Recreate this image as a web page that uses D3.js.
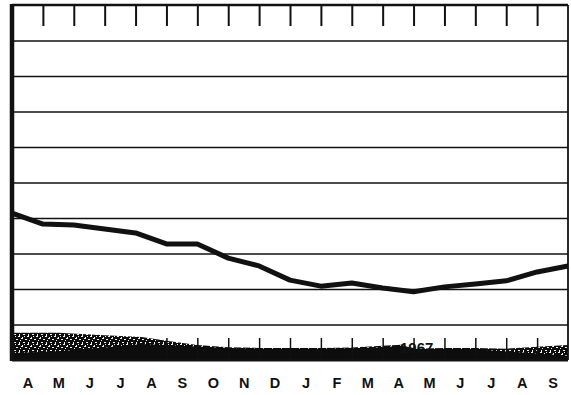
<!DOCTYPE html>
<html><head><meta charset="utf-8">
<script src="https://cdn.jsdelivr.net/npm/d3@7/dist/d3.min.js"></script>
<style>body{margin:0;background:#fff}svg{display:block}</style>
</head><body><svg id="c" width="571" height="395"></svg>
<script>
// Month labels (Apr 1966 .. Sep 1967)
const months = ["A","M","J","J","A","S","O","N","D","J","F","M","A","M","J","J","A","S"];
// Series value at each month boundary (index 0..18), in gridline units
const seriesValues = [4.14,3.83,3.80,3.69,3.58,3.27,3.27,2.87,2.65,2.25,2.08,2.17,2.03,1.92,2.06,2.14,2.23,2.48,2.65];
// Gridline levels
const gridLevels = [1,2,3,4,5,6,7,8,9];
// Bottom textured band (top edge, in gridline units) at positions along the month axis
const bandPos   = [0,1.5,3,4.2,5,6,7,8,9,10,11,12,12.6,13,14,15,16,17,18];
const bandTop   = [0.77,0.77,0.70,0.65,0.54,0.42,0.36,0.34,0.34,0.34,0.35,0.40,0.43,0.32,0.34,0.34,0.32,0.37,0.42];
const bandSolid = [0.20,0.25,0.35,0.45,0.42,0.38,0.34,0.32,0.32,0.32,0.33,0.36,0.40,0.30,0.32,0.30,0.24,0.18,0.12];
const yearLabel = "1967";

const svg = d3.select("#c");
const x = d3.scaleLinear().domain([0,18]).range([12,568]);
const y = d3.scaleLinear().domain([0,10]).range([360,5]);

// pattern for speckled band
const defs = svg.append("defs");
const pat = defs.append("pattern").attr("id","speck").attr("width",9).attr("height",8)
  .attr("patternUnits","userSpaceOnUse");
pat.append("rect").attr("width",9).attr("height",8).attr("fill","#0d0d0d");
[[0,0,2,1],[4,1,1,2],[7,3,2,1],[2,4,1,1],[5,6,2,1],[1,6,1,2],[6,0,1,1],[3,2,1,1]].forEach(p=>
  pat.append("rect").attr("x",p[0]).attr("y",p[1]).attr("width",p[2]).attr("height",p[3]).attr("fill","#f0f0f0"));

// band
const bandData = bandPos.map((p,i)=>({p, t:bandTop[i], s:bandSolid[i]}));
svg.append("path").datum(bandData)
  .attr("d", d3.area().x(d=>x(d.p)).y0(y(0)).y1(d=>y(d.t)))
  .attr("fill","url(#speck)");
svg.append("path").datum(bandData)
  .attr("d", d3.area().x(d=>x(d.p)).y0(y(0)).y1(d=>y(d.s)))
  .attr("fill","#0d0d0d");

// bottom small ticks rising out of band
const bt = svg.append("g").attr("transform",`translate(0,${y(0)})`)
  .call(d3.axisTop(x).tickValues(d3.range(5,18)).tickSize(22).tickFormat(""));
bt.select(".domain").remove();
bt.selectAll("line").attr("stroke","#111").attr("stroke-width",1.5);

// gridlines
const g = svg.append("g").attr("transform",`translate(${x(0)},0)`)
  .call(d3.axisLeft(y).tickValues(gridLevels).tickSize(-(x(18)-x(0))).tickFormat(""));
g.select(".domain").remove();
g.selectAll("line").attr("stroke","#111").attr("stroke-width",1.6);

// top ticks
const tt = svg.append("g").attr("transform",`translate(0,${y(10)})`)
  .call(d3.axisTop(x).tickValues(d3.range(1,18)).tickSize(-21).tickFormat(""));
tt.select(".domain").remove();
tt.selectAll("line").attr("stroke","#111").attr("stroke-width",2);

// frame
svg.append("line").attr("x1",x(0)).attr("x2",x(18)).attr("y1",y(10)).attr("y2",y(10)).attr("stroke","#111").attr("stroke-width",2.5);
svg.append("line").attr("x1",x(18)).attr("x2",x(18)).attr("y1",y(10)).attr("y2",y(0)).attr("stroke","#111").attr("stroke-width",1.8);
svg.append("line").attr("x1",x(0)).attr("x2",x(18)).attr("y1",y(0)).attr("y2",y(0)).attr("stroke","#111").attr("stroke-width",3);
svg.append("line").attr("x1",x(0)).attr("x2",x(0)).attr("y1",y(10)-1).attr("y2",y(0)+1).attr("stroke","#111").attr("stroke-width",4.5);

// series line
svg.append("path").datum(seriesValues)
  .attr("d", d3.line().x((d,i)=>x(i)).y(d=>y(d)))
  .attr("fill","none").attr("stroke","#111").attr("stroke-width",5)
  .attr("stroke-linejoin","round");

// year label
svg.append("text").attr("x",x(13.1)).attr("y",y(0)-7).attr("text-anchor","middle")
  .attr("font-family","Liberation Sans, Arial, sans-serif").attr("font-weight","bold")
  .attr("font-size",15).attr("fill","#111").text(yearLabel);

// month labels
const ma = svg.append("g").attr("transform",`translate(0,${y(0)})`)
  .call(d3.axisBottom(x).tickValues(d3.range(18).map(i=>i+0.5)).tickSize(0)
    .tickFormat((d,i)=>months[i]));
ma.select(".domain").remove();
ma.selectAll("text").attr("dy",0).attr("y",28)
  .attr("font-family","Liberation Sans, Arial, sans-serif").attr("font-weight","bold")
  .attr("font-size",14.5).attr("fill","#111");
</script></body></html>
